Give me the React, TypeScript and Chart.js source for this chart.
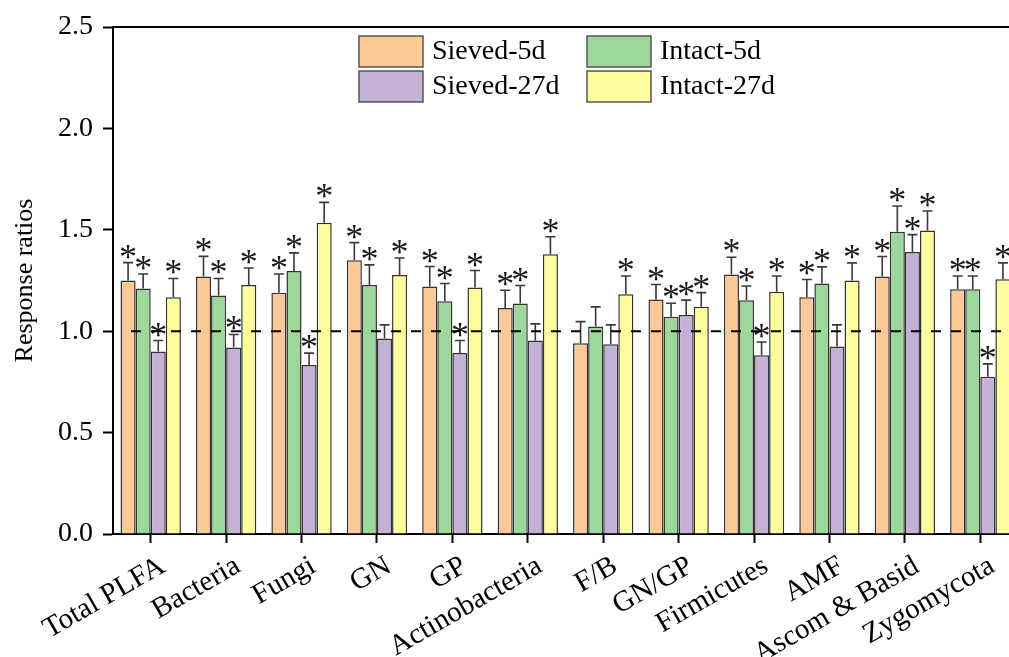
import React, { useEffect, useRef } from "react";
import { Chart, registerables } from "chart.js";

Chart.register(...registerables);

const categories = [
  "Total PLFA", "Bacteria", "Fungi", "GN", "GP", "Actinobacteria",
  "F/B", "GN/GP", "Firmicutes", "AMF", "Ascom & Basid", "Zygomycota",
];

const seriesNames = ["Sieved-5d", "Intact-5d", "Sieved-27d", "Intact-27d"];
const seriesColors = ["#FCC999", "#9ED79B", "#C3B2D6", "#FFFE9E"];

const sieved5d = [1.25, 1.27, 1.19, 1.35, 1.22, 1.115, 0.94, 1.156, 1.28, 1.167, 1.27, 1.207];
const sieved5dErr = [0.088, 0.099, 0.092, 0.087, 0.099, 0.087, 0.107, 0.074, 0.085, 0.088, 0.098, 0.065];
const sieved5dSig = [1, 1, 1, 1, 1, 1, 0, 1, 1, 1, 1, 1];

const intact5d = [1.21, 1.176, 1.297, 1.228, 1.148, 1.136, 1.023, 1.071, 1.153, 1.235, 1.491, 1.207];
const intact5dErr = [0.072, 0.084, 0.089, 0.099, 0.087, 0.089, 0.097, 0.067, 0.07, 0.082, 0.126, 0.065];
const intact5dSig = [1, 1, 1, 1, 1, 1, 0, 1, 1, 1, 1, 1];

const sieved27d = [0.9, 0.92, 0.833, 0.964, 0.892, 0.954, 0.936, 1.08, 0.882, 0.925, 1.391, 0.775];
const sieved27dErr = [0.054, 0.064, 0.059, 0.067, 0.062, 0.082, 0.095, 0.073, 0.065, 0.106, 0.085, 0.064];
const sieved27dSig = [1, 1, 1, 0, 1, 0, 0, 1, 1, 0, 1, 1];

const intact27d = [1.167, 1.228, 1.535, 1.277, 1.215, 1.379, 1.182, 1.12, 1.195, 1.25, 1.496, 1.256];
const intact27dErr = [0.093, 0.084, 0.1, 0.084, 0.084, 0.087, 0.09, 0.07, 0.077, 0.087, 0.097, 0.081];
const intact27dSig = [1, 1, 1, 1, 1, 1, 1, 1, 1, 1, 1, 1];

const yTicks = [0, 0.5, 1.0, 1.5, 2.0, 2.5];
const referenceLine = 1.0;

const seriesValues = [sieved5d, intact5d, sieved27d, intact27d];
const seriesErrs = [sieved5dErr, intact5dErr, sieved27dErr, intact27dErr];
const seriesSigs = [sieved5dSig, intact5dSig, sieved27dSig, intact27dSig];

const FONT = "'Liberation Serif', 'Times New Roman', serif";

const decorPlugin = {
  id: "decor",
  afterDatasetsDraw(chart: any) {
    const ctx = chart.ctx;
    const area = chart.chartArea;
    const y = chart.scales.y;
    ctx.save();
    // error bars
    chart.data.datasets.forEach((ds: any, di: number) => {
      const meta = chart.getDatasetMeta(di);
      meta.data.forEach((bar: any, i: number) => {
        const v = ds.data[i];
        const e = seriesErrs[di][i];
        const yTop = y.getPixelForValue(v);
        const yErr = y.getPixelForValue(v + e);
        ctx.strokeStyle = "#3a3a3a";
        ctx.lineWidth = 1.6;
        ctx.beginPath();
        ctx.moveTo(bar.x, yTop);
        ctx.lineTo(bar.x, yErr);
        ctx.moveTo(bar.x - 5, yErr);
        ctx.lineTo(bar.x + 5, yErr);
        ctx.stroke();
        if (seriesSigs[di][i]) {
          ctx.fillStyle = "#1a1a1a";
          ctx.font = `36px ${FONT}`;
          ctx.textAlign = "center";
          ctx.textBaseline = "alphabetic";
          ctx.fillText("*", bar.x, yErr + 6);
        }
      });
    });
    // dashed reference line
    const yr = y.getPixelForValue(referenceLine);
    ctx.strokeStyle = "#000";
    ctx.lineWidth = 2;
    ctx.setLineDash([10, 10]);
    ctx.beginPath();
    ctx.moveTo(area.left + 18, yr);
    ctx.lineTo(area.right, yr);
    ctx.stroke();
    ctx.setLineDash([]);
    // top frame line
    ctx.lineWidth = 2;
    ctx.beginPath();
    ctx.moveTo(area.left, area.top);
    ctx.lineTo(area.right, area.top);
    ctx.stroke();
    // legend
    const boxes = [
      [359, 36], [587, 36], [359, 71], [587, 71],
    ];
    ctx.font = `28px ${FONT}`;
    ctx.textAlign = "left";
    ctx.textBaseline = "middle";
    seriesNames.forEach((name, k) => {
      const [bx, by] = boxes[k];
      ctx.fillStyle = seriesColors[k];
      ctx.fillRect(bx, by, 64, 31);
      ctx.strokeStyle = "#555";
      ctx.lineWidth = 1.5;
      ctx.strokeRect(bx, by, 64, 31);
      ctx.fillStyle = "#000";
      ctx.fillText(name, bx + 73, by + 16);
    });
    ctx.restore();
  },
};

export default function App() {
  const ref = useRef<HTMLCanvasElement>(null);
  useEffect(() => {
    document.body.style.overflow = "hidden";
    document.documentElement.style.overflow = "hidden";
    const chart = new Chart(ref.current as HTMLCanvasElement, {
      type: "bar",
      data: {
        labels: categories,
        datasets: seriesNames.map((n, k) => ({
          label: n,
          data: seriesValues[k],
          backgroundColor: seriesColors[k],
          borderColor: "#333",
          borderWidth: 1.5,
          categoryPercentage: 0.8,
          barPercentage: 1.0,
        })),
      },
      options: {
        animation: false,
        responsive: false,
        devicePixelRatio: 1,
        layout: { padding: { left: 0, top: 27, right: 22, bottom: 0 } },
        plugins: { legend: { display: false }, tooltip: { enabled: false } },
        scales: {
          x: {
            offset: true,
            grid: {
              offset: false,
              drawOnChartArea: false,
              drawTicks: true,
              tickLength: 9,
              tickColor: "#000",
              tickWidth: 2,
            },
            border: { color: "#000", width: 2 },
            ticks: {
              color: "#000",
              font: { family: FONT, size: 29 },
              minRotation: 30,
              maxRotation: 30,
              autoSkip: false,
              padding: 6,
              labelOffset: 12,
            },
            afterFit(scale: any) {
              scale.height = 123;
            },
          },
          y: {
            min: 0,
            max: 2.5,
            afterBuildTicks(scale: any) {
              scale.ticks = yTicks.map((v) => ({ value: v }));
            },
            grid: {
              drawOnChartArea: false,
              drawTicks: true,
              tickLength: 10,
              tickColor: "#000",
              tickWidth: 2,
            },
            border: { color: "#000", width: 2 },
            ticks: {
              color: "#000",
              font: { family: FONT, size: 28 },
              padding: 10,
              callback: (v: any) => Number(v).toFixed(1),
            },
            title: {
              display: true,
              text: "Response ratios",
              color: "#000",
              font: { family: FONT, size: 26 },
              padding: { top: 10, bottom: 0 },
            },
            afterFit(scale: any) {
              scale.width = 113;
            },
          },
        },
      },
      plugins: [decorPlugin],
    });
    return () => chart.destroy();
  }, []);
  return (
    <div style={{ position: "fixed", left: 0, top: 0, width: 1040, height: 657, background: "#fff" }}>
      <canvas ref={ref} width={1040} height={657} style={{ display: "block" }} />
    </div>
  );
}
